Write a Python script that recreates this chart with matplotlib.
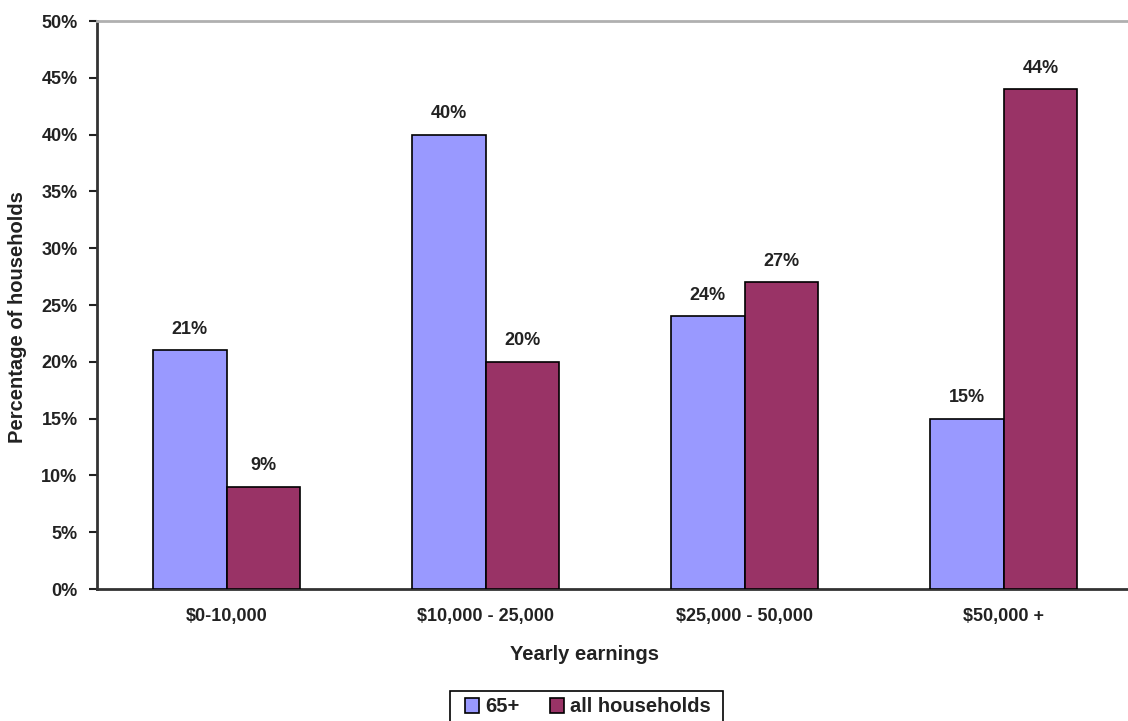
import matplotlib
matplotlib.use("Agg")
import matplotlib.pyplot as plt
import numpy as np
from matplotlib.ticker import FuncFormatter, MultipleLocator
from matplotlib.patches import Rectangle

categories = ["$0-10,000", "$10,000 - 25,000", "$25,000 - 50,000", "$50,000 +"]
seniors = [21, 40, 24, 15]
all_households = [9, 20, 27, 44]
series_names = ["65+", "all households"]

plt.rcParams['font.family'] = ['Liberation Sans', 'DejaVu Sans']
plt.rcParams['font.weight'] = 'bold'

W, H = 1128, 721
fig = plt.figure(figsize=(W / 100, H / 100), dpi=100)
left, right, top, bottom = 97, 1133, 21, 589
ax = fig.add_axes([left / W, 1 - bottom / H, (right - left) / W, (bottom - top) / H])

x = np.arange(len(categories))
bw = 0.2857
c1, c2 = "#9999FF", "#993366"
b1 = ax.bar(x - bw / 2, seniors, bw, color=c1, edgecolor="black", linewidth=1.2, label=series_names[0], zorder=3)
b2 = ax.bar(x + bw / 2, all_households, bw, color=c2, edgecolor="black", linewidth=1.2, label=series_names[1], zorder=3)

for bars, vals in ((b1, seniors), (b2, all_households)):
    for r, v in zip(bars, vals):
        ax.annotate(f"{v}%", (r.get_x() + r.get_width() / 2, v), xytext=(0, 9),
                    textcoords="offset points", ha="center", va="bottom",
                    fontsize=13, fontweight="bold", color="#222222")

ax.set_xlim(-0.5, 3.5)
ax.set_ylim(0, 50)
ax.yaxis.set_major_locator(MultipleLocator(5))
ax.yaxis.set_major_formatter(FuncFormatter(lambda v, p: f"{int(v)}%"))
ax.set_xticks(x)
ax.set_xticklabels(categories)
ax.tick_params(axis='x', length=0, pad=14, labelsize=13, colors="#222222")
ax.tick_params(axis='y', length=6, width=1.5, pad=8, labelsize=13, colors="#222222")
for lab in ax.get_xticklabels() + ax.get_yticklabels():
    lab.set_fontweight("bold")

ax.spines['left'].set_color("#333333")
ax.spines['left'].set_linewidth(2)
ax.spines['bottom'].set_color("#333333")
ax.spines['bottom'].set_linewidth(2)
ax.spines['top'].set_color("#b0b0b0")
ax.spines['top'].set_linewidth(2)
ax.spines['right'].set_visible(False)

fig.text(585 / W, 1 - 655 / H, "Yearly earnings", ha="center", va="center",
         fontsize=14.5, fontweight="bold", color="#222222")
fig.text(18 / W, 1 - 317 / H, "Percentage of households", ha="center", va="center",
         rotation=90, fontsize=14.5, fontweight="bold", color="#222222")

leg = fig.legend(handles=[b1, b2], labels=series_names, loc="center",
                 bbox_to_anchor=(588 / W, 1 - 707 / H), ncol=2, frameon=False,
                 fontsize=14.5,
                 handlelength=0.7, handleheight=0.7, handletextpad=0.3,
                 columnspacing=1.5, borderpad=0.25, borderaxespad=0)
for t in leg.get_texts():
    t.set_fontweight("bold")
    t.set_color("#222222")
fig.patches.append(Rectangle((450 / W, 1 - 726 / H), 273 / W, 35 / H,
                             transform=fig.transFigure, fill=False,
                             edgecolor="black", linewidth=1.2))

fig.savefig("out.png", dpi=100)
